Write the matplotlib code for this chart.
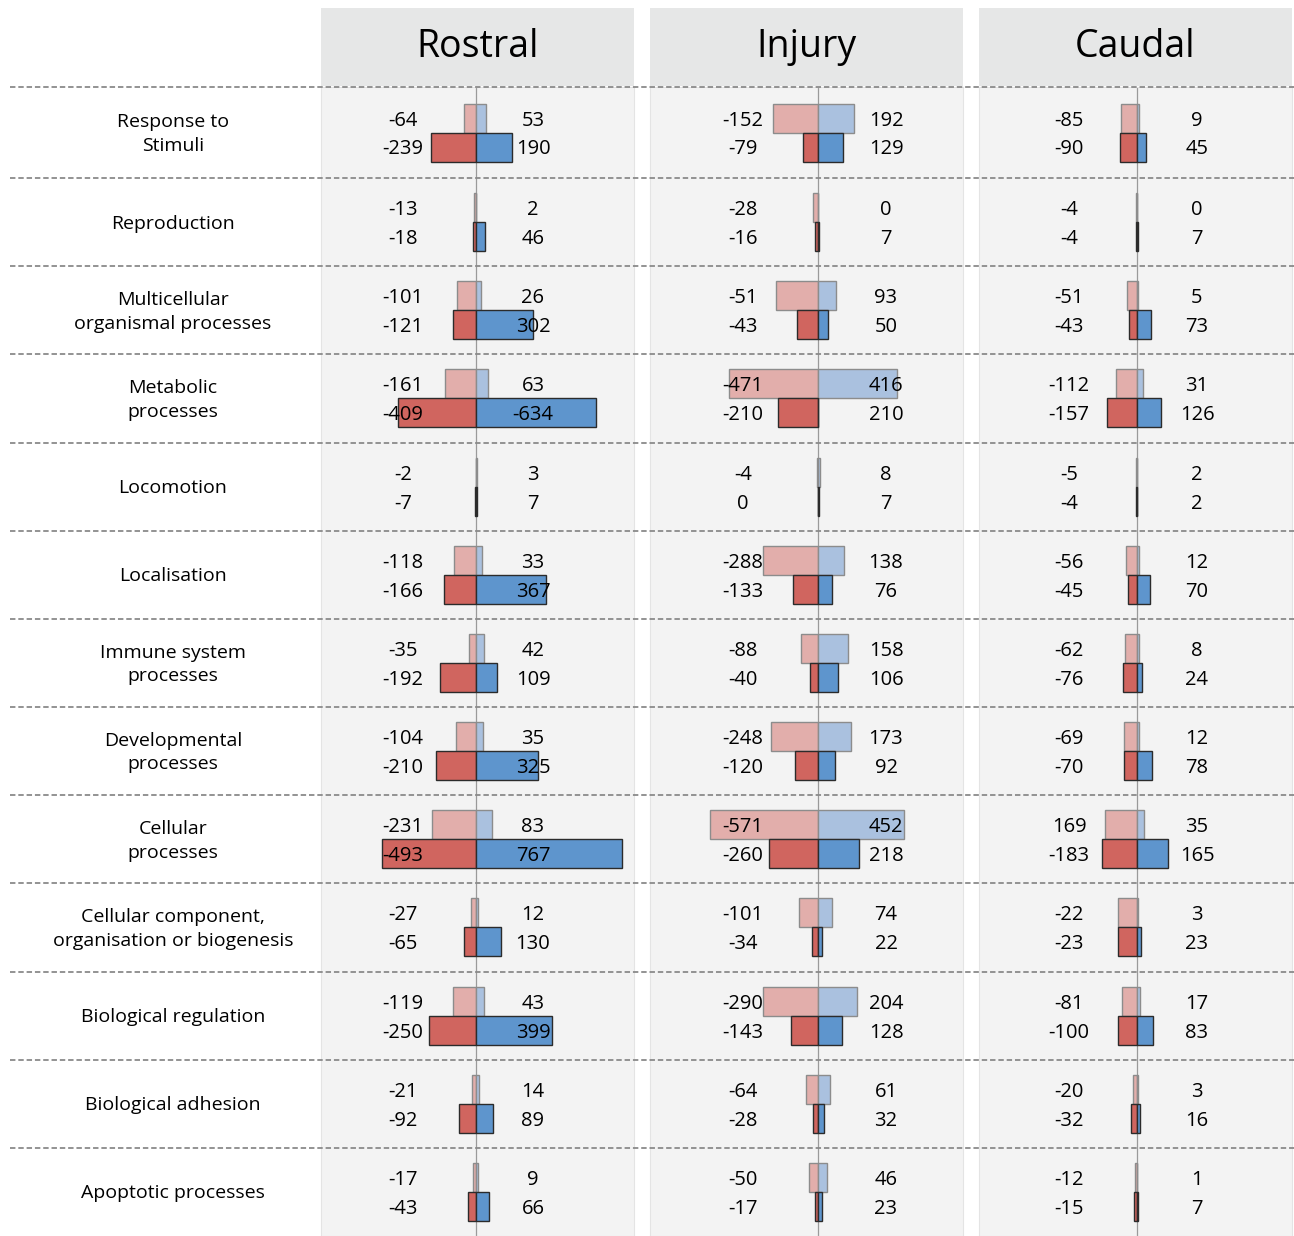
import matplotlib.pyplot as plt
from matplotlib.lines import Line2D
import numpy as np

# categorias (de cima para baixo)
categories = [
    "Response to\nStimuli", "Reproduction", "Multicellular\norganismal processes",
    "Metabolic\nprocesses", "Locomotion", "Localisation",
    "Immune system\nprocesses", "Developmental\nprocesses", "Cellular\nprocesses",
    "Cellular component,\norganisation or biogenesis", "Biological regulation",
    "Biological adhesion", "Apoptotic processes",
]
panels = ["Rostral", "Injury", "Caudal"]

# valores como aparecem no gráfico (linha de cima: claro, linha de baixo: escuro)
rostral_up_left = [-64, -13, -101, -161, -2, -118, -35, -104, -231, -27, -119, -21, -17]
rostral_up_right = [53, 2, 26, 63, 3, 33, 42, 35, 83, 12, 43, 14, 9]
rostral_down_left = [-239, -18, -121, -409, -7, -166, -192, -210, -493, -65, -250, -92, -43]
rostral_down_right = [190, 46, 302, -634, 7, 367, 109, 325, 767, 130, 399, 89, 66]

injury_up_left = [-152, -28, -51, -471, -4, -288, -88, -248, -571, -101, -290, -64, -50]
injury_up_right = [192, 0, 93, 416, 8, 138, 158, 173, 452, 74, 204, 61, 46]
injury_down_left = [-79, -16, -43, -210, 0, -133, -40, -120, -260, -34, -143, -28, -17]
injury_down_right = [129, 7, 50, 210, 7, 76, 106, 92, 218, 22, 128, 32, 23]

caudal_up_left = [-85, -4, -51, -112, -5, -56, -62, -69, 169, -22, -81, -20, -12]
caudal_up_right = [9, 0, 5, 31, 2, 12, 8, 12, 35, 3, 17, 3, 1]
caudal_down_left = [-90, -4, -43, -157, -4, -45, -76, -70, -183, -23, -100, -32, -15]
caudal_down_right = [45, 7, 73, 126, 2, 70, 24, 78, 165, 23, 83, 16, 7]

data = {
    "Rostral": (rostral_up_left, rostral_up_right, rostral_down_left, rostral_down_right),
    "Injury": (injury_up_left, injury_up_right, injury_down_left, injury_down_right),
    "Caudal": (caudal_up_left, caudal_up_right, caudal_down_left, caudal_down_right),
}
# barras que no original não batem com o rótulo (painel, linha, posição): comprimento lido
bar_override = {
    ("Injury", 0, 0): 237,
    ("Injury", 2, 0): 221,
    ("Injury", 2, 2): 111,
    ("Injury", 3, 3): 0,
    ("Caudal", 9, 0): 100,
    ("Caudal", 9, 2): 100,
}

# layout (pixels da figura)
W, H = 1294, 1236
panel_x = {"Rostral": (321, 634, 476), "Injury": (650, 963, 818), "Caudal": (979, 1292, 1137)}
label_x = {"Rostral": (403, 533), "Injury": (743, 886), "Caudal": (1069, 1197)}
px_per_unit = 0.19
top_data, top_head = 87, 8
n = len(categories)
row_edges = np.concatenate([[top_data], np.linspace(178, H, n)])
row_mid = (row_edges[:-1] + row_edges[1:]) / 2
bh = 29

light_red, light_blue = "#e2aeab", "#aac1df"
dark_red, dark_blue = "#d0655f", "#5e95cd"

plt.rcParams["font.family"] = ["Open Sans", "DejaVu Sans"]
fig = plt.figure(figsize=(W / 100, H / 100), dpi=100)


def bar_len(name, i, slot, v):
    return abs(bar_override.get((name, i, slot), v))


for name in panels:
    x0, x1, xc = panel_x[name]
    ax = fig.add_axes([x0 / W, 0, (x1 - x0) / W, (H - top_data) / H])
    ax.set_facecolor("#f3f3f3")
    ax.set_xlim((x0 - xc) / px_per_unit, (x1 - xc) / px_per_unit)
    ax.set_ylim(H, top_data)
    ax.set_xticks([])
    ax.set_yticks([])
    for s in ax.spines.values():
        s.set_color("#e4e4e4")
    ax.axvline(0, color="#9a9a9a", lw=0.9, zorder=1)

    ul, ur, dl, dr = data[name]
    y_up = row_mid - bh / 2
    y_dn = row_mid + bh / 2
    ax.barh(y_up, [-bar_len(name, i, 0, v) for i, v in enumerate(ul)], height=bh,
            color=light_red, edgecolor="#8c8c8c", lw=1, zorder=2)
    ax.barh(y_up, [bar_len(name, i, 1, v) for i, v in enumerate(ur)], height=bh,
            color=light_blue, edgecolor="#8c8c8c", lw=1, zorder=2)
    ax.barh(y_dn, [-bar_len(name, i, 2, v) for i, v in enumerate(dl)], height=bh,
            color=dark_red, edgecolor="#2b2b2b", lw=1, zorder=3)
    ax.barh(y_dn, [bar_len(name, i, 3, v) for i, v in enumerate(dr)], height=bh,
            color=dark_blue, edgecolor="#2b2b2b", lw=1, zorder=3)

    lx = (label_x[name][0] - xc) / px_per_unit
    rx = (label_x[name][1] - xc) / px_per_unit
    for i in range(n):
        kw = dict(ha="center", va="center", fontsize=14.5, zorder=5)
        ax.text(lx, y_up[i] + 2.5, str(ul[i]), **kw)
        ax.text(rx, y_up[i] + 2.5, str(ur[i]), **kw)
        ax.text(lx, y_dn[i] + 2.5, str(dl[i]), **kw)
        ax.text(rx, y_dn[i] + 2.5, str(dr[i]), **kw)

    # cabeçalho
    hax = fig.add_axes([x0 / W, (H - top_data + 1) / H, (x1 - x0) / W, (top_data - 1 - top_head) / H])
    hax.set_facecolor("#e6e7e7")
    hax.set_xticks([])
    hax.set_yticks([])
    for s in hax.spines.values():
        s.set_visible(False)
    hax.text(0.5, 0.5, name, ha="center", va="center", fontsize=27, transform=hax.transAxes)

# linhas tracejadas e nomes das categorias
for i in range(n):
    y = H - row_edges[i]
    fig.add_artist(Line2D([10 / W, 1 - 0.5 / W], [y / H, y / H], color="#8a8a8a", lw=1.3,
                          ls=(0, (3, 1.6)), zorder=10))
    yc = H - (row_mid[i] + 1.5)
    fig.text(173 / W, yc / H, categories[i], ha="center", va="center", fontsize=14, linespacing=1.4)

fig.savefig("out.png", dpi=100, facecolor="white")
